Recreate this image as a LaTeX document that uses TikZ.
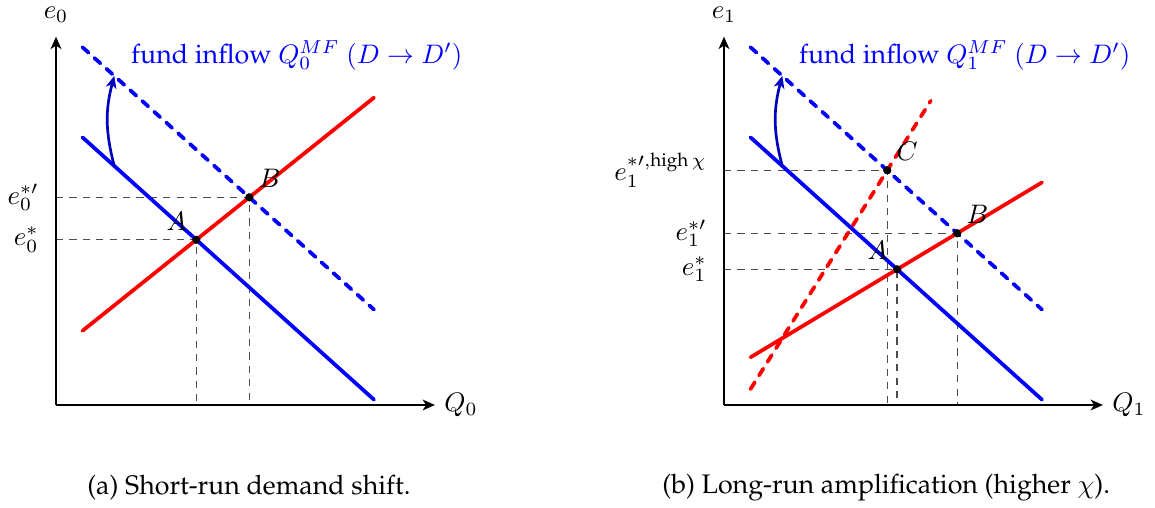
\documentclass[tikz,border=0pt]{standalone}
\usepackage[T1]{fontenc}
\usepackage{amsmath}
\usepackage{palatino}
\usetikzlibrary{arrows.meta}

\begin{document}
\begin{tikzpicture}[>={Stealth[length=4.6pt, width=4pt, inset=1.3pt]}, x=19.78pt, y=19.78pt,
  axis/.style={->, line width=1pt},
  demand/.style={blue, line width=1.4pt, line cap=round},
  supply/.style={red, line width=1.4pt, line cap=round},
  newline/.style={dashed, line cap=round},
  guide/.style={black!70, line width=0.5pt, dash pattern=on 2.7pt off 2.3pt},
  eqdot/.style={circle, fill=black, inner sep=0pt, minimum size=3pt},
  inflow/.style={->, blue!75!black, line width=1pt}]
\useasboundingbox (-1.057,-1.943) rectangle (20.736,7.642);

% (a) short run
\coordinate (o0) at (0,0);
\node[eqdot] (A0) at (2.647,3.118) {};
\node[eqdot] (B0) at (3.647,3.918) {};
\draw[guide] (o0 |- A0.center) -- (A0.center) -- (A0.center |- o0);
\draw[guide] (o0 |- B0.center) -- (B0.center) -- (B0.center |- o0);
\draw[axis] (o0) -- (7.15,0) coordinate (x0);
\draw[axis] (o0) -- (0,6.95) coordinate (y0);
\node[right] (q0) at (x0) {$Q_0$};
\node (ylab0) at (0,7.36) {$e_0$};
\draw[supply] (0.5,1.4) coordinate (s0a) -- (6,5.8) coordinate (s0b);
\draw[demand] (0.5,5.05) coordinate (d0a) -- (6,0.1) coordinate (d0b);
\draw[demand, newline] (0.5,6.75) coordinate (n0a) -- (6,1.8) coordinate (n0b);
\coordinate (from0) at (1.1,4.51);
\coordinate (to0) at (1.1,6.21);
\draw[inflow] (from0) to[bend left=15] (to0);
\node[blue, anchor=west] (fund0) at (1.24,6.6) {fund inflow $Q_0^{MF}\ (D\to D')$};
\node[anchor=east] (ea0) at (-0.15,3.118) {$e_0^*$};
\node[anchor=east] (eb0) at (-0.15,3.918) {$e_0^{*\prime}$};
\node[above left] (la0) at (A0) {$A$};
\node[above right] (lb0) at (B0) {$B$};
\node[eqdot] at (A0) {};
\node[eqdot] at (B0) {};
\node (cap0) at (3.64,-1.566) {(a) Short-run demand shift.};

% (b) long run
\begin{scope}[xshift=12.604*19.78pt]
\coordinate (o1) at (0,0);
\node[eqdot] (A1) at (3.267,2.56) {};
\node[eqdot] (B1) at (4.4,3.24) {};
\node[eqdot] (C1) at (3.08,4.428) {};
\draw[guide] (o1 |- A1.center) -- (A1.center) -- (A1.center |- o1);
\draw[guide] (o1 |- B1.center) -- (B1.center) -- (B1.center |- o1);
\draw[guide] (o1 |- C1.center) -- (C1.center) -- (C1.center |- o1);
\draw[axis] (o1) -- (7.15,0) coordinate (x1);
\draw[axis] (o1) -- (0,6.95) coordinate (y1);
\node[right] (q1) at (x1) {$Q_1$};
\node (ylab1) at (0,7.36) {$e_1$};
\draw[supply] (0.5,0.9) coordinate (s1a) -- (6,4.2) coordinate (s1b);
\draw[supply, newline] (0.5,0.3) coordinate (h1a) -- (3.9,5.74) coordinate (h1b);
\draw[demand] (0.5,5.05) coordinate (d1a) -- (6,0.1) coordinate (d1b);
\draw[demand, newline] (0.5,6.75) coordinate (n1a) -- (6,1.8) coordinate (n1b);
\coordinate (from1) at (1.1,4.51);
\coordinate (to1) at (1.1,6.21);
\draw[inflow] (from1) to[bend left=15] (to1);
\node[blue, anchor=west] (fund1) at (1.24,6.6) {fund inflow $Q_1^{MF}\ (D\to D')$};
\node[anchor=east] (ea1) at (-0.15,2.56) {$e_1^*$};
\node[anchor=east] (eb1) at (-0.15,3.24) {$e_1^{*\prime}$};
\node[anchor=east] (ec1) at (-0.15,4.428) {$e_1^{*\prime,\text{high}\,\chi}$};
\node[above left] (la1) at (A1) {$A$};
\node[above right] (lb1) at (B1) {$B$};
\node[above right] (lc1) at (C1) {$C$};
\node[eqdot] at (A1) {};
\node[eqdot] at (B1) {};
\node[eqdot] at (C1) {};
\node (cap1) at (3.06,-1.566) {(b) Long-run amplification (higher $\chi$).};
\end{scope}
\end{tikzpicture}
\end{document}
